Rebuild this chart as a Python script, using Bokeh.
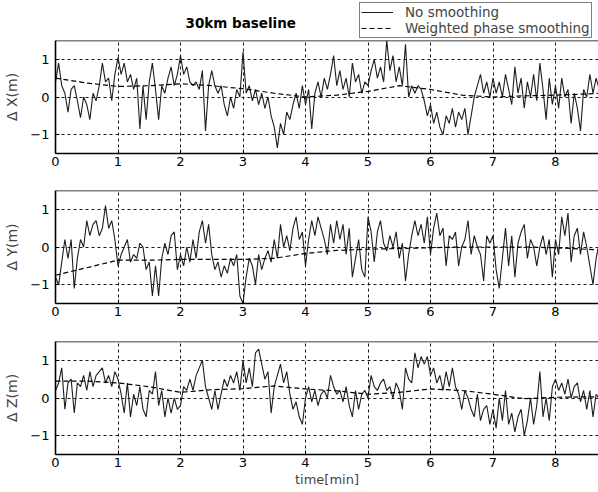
from bokeh.plotting import figure
from bokeh.layouts import column
from bokeh.models import Range1d, FixedTicker, Legend, LegendItem, Label, Span
from bokeh.embed import file_html
from bokeh.resources import INLINE

FONT = "DejaVu Sans"

# ---- data ----
sample_step_min = 0.05
x_noisy = [
    0.4, 0.9, 0.3, 0.1, -0.4, 0.2, 0.3, -0.1, -0.55, 0.0,
    -0.2, -0.6, 0.1, -0.1, 0.3, 0.9, 0.4, 0.5, -0.1, 0.6,
    1.05, 0.6, 0.9, 0.4, 0.6, 0.2, 0.5, -0.85, 0.3, -0.6,
    0.4, 0.9, 0.2, -0.6, 0.3, 0.1, 0.5, 0.8, 0.3, 0.6,
    1.1, 0.6, 0.8, 0.4, 0.3, 0.4, 0.2, 0.7, -0.9, 0.3,
    0.7, 0.3, 0.1, 0.3, -0.2, -0.5, 0.0, -0.3, 0.2, 0.0,
    1.2, 0.1, 0.3, -0.1, 0.2, -0.2, 0.1, -0.3, 0.0, -0.5,
    -0.8, -1.35, -0.7, -1.0, -0.4, -0.6, -0.2, 0.1, -0.3, 0.3,
    -0.2, 0.2, -0.85, 0.1, 0.4, 0.0, 0.5, 0.2, 0.6, 1.1,
    0.3, 0.7, 0.2, 0.5, 0.0, 0.9, 0.4, 0.6, 0.1, 0.4,
    0.3, 0.7, 1.0, 0.5, 0.8, 0.4, 1.5, 0.7, 1.1, 0.4,
    0.8, 0.3, 1.4, 0.0, 0.3, 0.1, 0.3, 0.2, -0.1, -0.5,
    -0.2, -0.7, -0.4, -0.8, -1.0, -0.5, -0.7, -0.3, -0.8, -0.4,
    -0.6, -0.3, -1.0, -0.5, 0.0, 0.3, 0.6, 0.1, 0.4, 0.0,
    0.5, 0.1, 0.4, 0.0, 0.6, 0.2, -0.2, 0.8, 0.1, 0.5,
    -0.3, 0.4, 0.0, 0.6, -0.1, 0.9, 0.2, -0.6, 0.5, -0.2,
    0.3, -0.3, 0.5, 0.0, 0.2, -0.7, 0.1, -0.3, -0.9, 0.2,
    0.0, 0.6, 0.1, 0.5, 0.2,
]
y_noisy = [
    -0.8, -1.0, -0.4, 0.2, -0.3, 0.2, -1.1, -0.3, 0.2, 0.0,
    0.7, 0.3, 0.6, 0.7, 0.3, 0.5, 1.1, 0.5, 0.7, 0.2,
    -0.5, -0.2, 0.0, 0.2, -0.4, -0.2, -0.3, 0.1, 0.0, -0.6,
    -0.4, -1.3, -0.5, -1.3, -0.3, 0.1, -0.2, 0.3, 0.4, -0.6,
    -0.2, -0.5, 0.0, -0.4, 0.2, -0.3, 0.4, 0.7, 0.1, 0.6,
    -0.2, -0.6, -0.4, -0.8, -0.5, -0.7, -0.3, -0.5, -0.2, -1.3,
    -1.5, -0.8, -0.3, -0.5, -1.0, -0.2, -0.6, -0.3, -0.1, -0.4,
    0.2, -0.3, 0.6, 0.0, 0.3, -0.1, 0.5, 0.8, 0.2, 0.4,
    -0.5, 0.2, 0.7, 0.3, 0.8, 0.5, 0.2, -0.2, 0.6, 0.1,
    0.7, 0.2, 0.6, -0.2, 0.5, -0.8, -0.3, 0.2, -0.6, -0.8,
    0.8, 0.4, -0.4, 0.4, 0.7, 0.1, -0.1, 0.3, 0.0, 0.4,
    -0.3, 0.1, -0.9, -0.2, 0.3, 0.7, 0.3, 0.6, 0.1, 0.8,
    -0.2, 0.5, 0.9, 0.3, 0.5, -0.5, 0.3, 0.2, 0.4, -0.5,
    0.0, 0.2, 0.7, -0.2, 0.3, 0.0, -0.2, -0.9, 0.3, 0.1,
    0.3, -0.6, -1.1, -0.3, 0.5, -0.5, 0.3, -0.8, 0.1, 0.4,
    0.6, -0.3, 0.2, 0.0, -0.5, 0.0, 0.3, -0.2, 0.2, -0.8,
    0.2, -0.2, 0.8, 0.3, 0.9, -0.4, 0.3, 0.5, -0.2, 0.4,
    0.0, -0.5, -1.0, -0.3, 0.1,
]
z_noisy = [
    0.2, 0.4, 0.8, -0.3, 0.4, 0.5, -0.4, 0.4, 0.3, 0.6,
    0.2, 0.7, 0.3, 0.6, 0.7, 0.8, 0.4, 0.6, 0.3, 0.7,
    0.5, 0.1, -0.4, 0.4, -0.5, 0.1, -0.2, 0.3, -0.3, -0.5,
    0.2, 0.1, 0.7, -0.2, 0.2, -0.5, 0.0, -0.4, 0.0, -0.3,
    -0.2, 0.3, 0.2, 0.5, 0.2, 0.6, 0.8, 1.0, 0.3, 0.0,
    -0.3, 0.2, -0.3, 0.1, 0.5, 0.3, 0.6, 0.4, 0.7, 0.2,
    1.0, 0.4, 0.8, 0.3, 1.2, 1.3, 0.9, 0.5, 0.7, -0.4,
    0.3, 0.6, 0.9, 0.4, 0.7, 0.1, -0.3, -0.1, -0.5, -0.7,
    0.0, 0.3, -0.1, 0.2, -0.2, 0.1, 0.2, 0.0, 0.6, 0.3,
    0.1, 0.2, -0.1, 0.3, -0.2, -0.5, 0.2, -0.3, 0.1, 0.2,
    0.0, 0.6, 0.3, 0.2, 0.4, 0.5, 0.2, 0.3, 0.0, 0.4,
    0.2, -0.3, 0.8, 0.5, 0.4, 1.2, 0.8, 1.1, 0.9, 1.1,
    0.6, 0.8, 0.4, 0.6, 0.2, 0.7, 0.3, 0.8, 0.3, 0.1,
    -0.3, 0.2, 0.0, -0.3, -0.5, 0.1, -0.6, -0.3, -0.2, -0.7,
    -0.3, -0.8, 0.0, -0.6, 0.2, -0.7, -0.4, -0.9, -0.5, -0.3,
    -1.0, -0.6, 0.0, -0.7, -0.2, 0.7, -0.5, 0.0, -0.6, 0.3,
    0.5, 0.2, 0.4, 0.1, 0.5, 0.0, 0.3, 0.4, -0.1, 0.2,
    -0.3, 0.2, -0.5, 0.1, 0.0,
]
smooth_t = [0, 0.5, 1.0, 1.5, 2.0, 2.5, 3.0, 3.5, 4.0, 4.5, 5.0, 5.5, 6.0, 6.5, 7.0, 7.5, 8.0, 8.5, 8.69]
x_smooth = [0.5, 0.37, 0.28, 0.3, 0.35, 0.3, 0.22, 0.1, 0.0, 0.05, 0.15, 0.3, 0.2, 0.05, 0.0, 0.03, 0.05, 0.08, 0.1]
y_smooth = [-0.75, -0.55, -0.35, -0.35, -0.33, -0.33, -0.33, -0.3, -0.17, -0.09, -0.06, -0.04, -0.02, 0.0, 0.0, 0.0, -0.02, -0.06, -0.08]
z_smooth = [0.45, 0.45, 0.4, 0.3, 0.15, 0.22, 0.25, 0.32, 0.24, 0.19, 0.1, 0.15, 0.24, 0.2, 0.1, -0.02, 0.02, 0.03, 0.03]

x_ticks = [0, 1, 2, 3, 4, 5, 6, 7, 8]
y_ticks = [-1, 0, 1]
title_text = "30km baseline"
legend_labels = ["No smoothing", "Weighted phase smoothing"]
y_labels = ["\u0394 X(m)", "\u0394 Y(m)", "\u0394 Z(m)"]
x_label = "time[min]"

time = [i * sample_step_min for i in range(len(x_noisy))]

FRAME_H = 113
NOISY_STYLE = dict(line_color="#1e1e1e", line_width=1.1)
SMOOTH_STYLE = dict(line_color="black", line_width=1.2, line_dash="5 3")


def panel(noisy, smooth, ylabel, top, bottom, xlabel=None):
    p = figure(width=598, height=top + FRAME_H + bottom,
               x_range=Range1d(0, 8.688), y_range=Range1d(-1.5, 1.5),
               output_backend="svg", toolbar_location=None,
               min_border_left=55, min_border_right=0,
               min_border_top=top, min_border_bottom=bottom,
               background_fill_color="white", border_fill_color="white")
    p.outline_line_color = None
    for ax in (p.xaxis[0], p.yaxis[0]):
        ax.axis_line_width = 1.6
        ax.axis_line_color = "black"
        ax.major_tick_in = 4
        ax.major_tick_out = 0
        ax.minor_tick_line_color = None
        ax.major_tick_line_color = "black"
        ax.major_label_text_font = FONT
        ax.major_label_text_font_size = "13px"
        ax.major_label_text_color = "black"
    p.xaxis.ticker = FixedTicker(ticks=x_ticks)
    p.yaxis.ticker = FixedTicker(ticks=y_ticks)
    p.xaxis.major_label_standoff = 3
    p.yaxis.major_label_standoff = 6
    p.yaxis.axis_label = ylabel
    p.yaxis.axis_label_text_font = FONT
    p.yaxis.axis_label_text_font_size = "14px"
    p.yaxis.axis_label_text_font_style = "normal"
    p.yaxis.axis_label_standoff = 7
    if xlabel:
        p.xaxis.axis_label = xlabel
        p.xaxis.axis_label_text_font = FONT
        p.xaxis.axis_label_text_font_size = "13px"
        p.xaxis.axis_label_text_font_style = "normal"
        p.xaxis.axis_label_standoff = 2
    p.add_layout(Span(location=1.5, dimension="width", line_color="black", line_width=1.6))
    for g in (p.xgrid[0], p.ygrid[0]):
        g.grid_line_color = "black"
        g.grid_line_dash = "3 3"
        g.grid_line_width = 1
        g.grid_line_alpha = 0.9
    p.line(time, noisy, **NOISY_STYLE)
    p.line(smooth_t, smooth, **SMOOTH_STYLE)
    return p


# header strip with the title and the legend (its frame is aligned with the panels' frames,
# so screen offsets are measured from x = 55)
header = figure(width=598, height=40, x_range=Range1d(0, 8.688), y_range=Range1d(-1.5, 1.5),
                output_backend="svg", toolbar_location=None,
                x_axis_type=None, y_axis_type=None,
                min_border_left=55, min_border_right=0, min_border_top=0, min_border_bottom=0,
                background_fill_color="white", border_fill_color="white")
header.outline_line_color = None
header.grid.visible = False
header.add_layout(Label(x=130, y=18, x_units="screen", y_units="screen",
                        text=title_text, text_font=FONT, text_font_size="13.5px",
                        text_font_style="bold", text_baseline="middle", text_color="black"))
# single-point renderers: nothing is drawn, they only carry the legend styles
la = header.line(time[:1], [-10], **NOISY_STYLE)
lb = header.line(smooth_t[:1], [-10], **SMOOTH_STYLE)
legend = Legend(items=[LegendItem(label=legend_labels[0], renderers=[la]),
                       LegendItem(label=legend_labels[1], renderers=[lb])],
                location=(304, 2), orientation="vertical",
                label_text_font=FONT, label_text_font_size="13.5px",
                glyph_width=32, glyph_height=14, label_height=14,
                label_standoff=12, padding=1, spacing=0, margin=0,
                border_line_color="black", border_line_width=1,
                background_fill_color="white", background_fill_alpha=1)
header.add_layout(legend)

p1 = panel(x_noisy, x_smooth, y_labels[0], 0, 22)
p2 = panel(y_noisy, y_smooth, y_labels[1], 15, 23)
p3 = panel(z_noisy, z_smooth, y_labels[2], 15, 38, xlabel=x_label)

layout = column(header, p1, p2, p3, spacing=0)
open("out.html", "w").write(file_html(layout, INLINE))
